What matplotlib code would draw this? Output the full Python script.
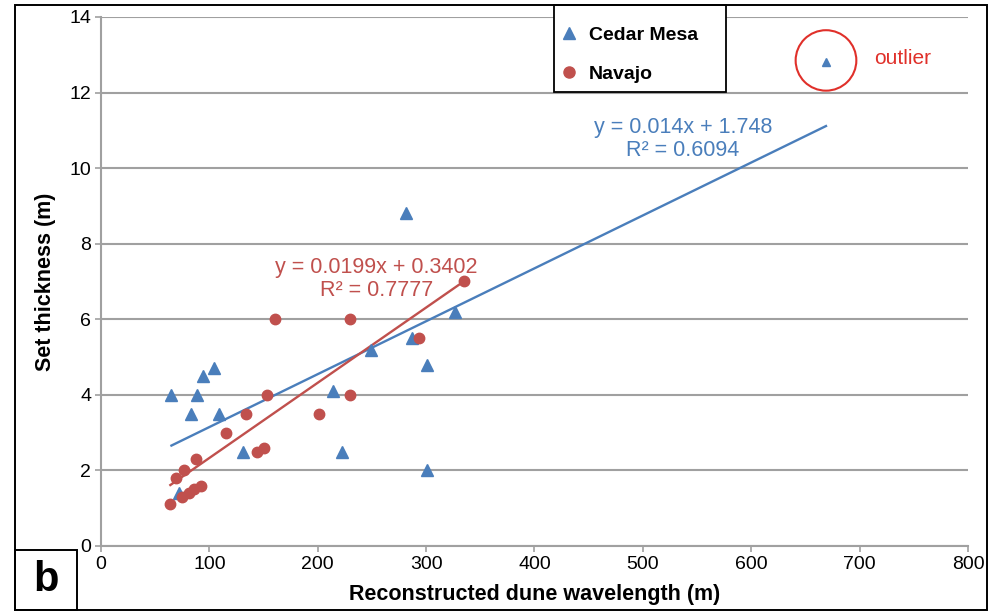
import matplotlib
matplotlib.use("Agg")
import matplotlib.pyplot as plt
from matplotlib.patches import Rectangle, Ellipse
from matplotlib.lines import Line2D
import numpy as np

plt.rcParams["font.family"] = ["Liberation Sans", "DejaVu Sans"]

# Cedar Mesa (triangles)
cedar_x = [65, 72, 83, 89, 94, 104, 109, 131, 214, 222, 249, 281, 287, 301, 301, 327]
cedar_y = [4.0, 1.4, 3.5, 4.0, 4.5, 4.7, 3.5, 2.5, 4.1, 2.5, 5.2, 8.8, 5.5, 4.8, 2.0, 6.2]
outlier_x = [669]
outlier_y = [12.8]

# Navajo (circles)
navajo_x = [64, 69, 75, 77, 81, 86, 88, 92, 115, 134, 144, 150, 153, 161, 201, 230, 230, 293, 335]
navajo_y = [1.1, 1.8, 1.3, 2.0, 1.4, 1.5, 2.3, 1.6, 3.0, 3.5, 2.5, 2.6, 4.0, 6.0, 3.5, 4.0, 6.0, 5.5, 7.0]

# trend lines as printed on the chart
cedar_fit = (0.014, 1.748)
navajo_fit = (0.0199, 0.3402)
cedar_eq = ["y = 0.014x + 1.748", "R² = 0.6094"]
navajo_eq = ["y = 0.0199x + 0.3402", "R² = 0.7777"]

xticks = [0, 100, 200, 300, 400, 500, 600, 700, 800]
yticks = [0, 2, 4, 6, 8, 10, 12, 14]

BLUE = "#4a7ebb"
RED = "#c0504d"
GRID = "#a0a0a0"

fig = plt.figure(figsize=(10.04, 6.13), dpi=100)
ax = fig.add_axes([0.1006, 0.1093, 0.8635, 0.863])

ax.set_xlim(0, 800)
ax.set_ylim(0, 14)
ax.set_xticks(xticks)
ax.set_yticks(yticks)
ax.tick_params(labelsize=14, color=GRID, length=4, width=1.2, pad=3)
for s in ["top", "right"]:
    ax.spines[s].set_visible(False)
for s in ["left", "bottom"]:
    ax.spines[s].set_color(GRID)
    ax.spines[s].set_linewidth(1.5)
ax.yaxis.grid(True, color=GRID, linewidth=1.5)
ax.set_axisbelow(True)

# trend lines over the data range
cx = np.array([min(cedar_x), max(outlier_x)])
ax.plot(cx, cedar_fit[0] * cx + cedar_fit[1], color=BLUE, lw=1.7, zorder=3)
nx = np.array([min(navajo_x), max(navajo_x)])
ax.plot(nx, navajo_fit[0] * nx + navajo_fit[1], color=RED, lw=1.7, zorder=3)

ax.plot(cedar_x, cedar_y, "^", color=BLUE, ms=8, ls="none", zorder=4)
ax.plot(outlier_x, outlier_y, "^", color=BLUE, ms=5.5, ls="none", zorder=4)
ax.plot(navajo_x, navajo_y, "o", color=RED, ms=7.5, ls="none", zorder=4)

ax.text(537, 10.77, "\n".join(cedar_eq), color=BLUE, fontsize=15.5,
        ha="center", va="center", linespacing=1.12)
ax.text(254, 7.06, "\n".join(navajo_eq), color=RED, fontsize=15.5,
        ha="center", va="center", linespacing=1.12)

ax.set_xlabel("Reconstructed dune wavelength (m)", fontsize=15.5, fontweight="bold", labelpad=8)
ax.set_ylabel("Set thickness (m)", fontsize=15.5, fontweight="bold", labelpad=10)

# outlier marker circle
circ = Ellipse((outlier_x[0], outlier_y[0] + 0.05), 56, 1.6, fill=False,
               edgecolor="#e0302a", lw=1.5, zorder=5, clip_on=False)
ax.add_patch(circ)
ax.text(713, 12.9, "outlier", color="#e0302a", fontsize=15, ha="left", va="center")

# legend (frame drawn separately)
handles = [Line2D([], [], marker="^", color=BLUE, ls="none", ms=8),
           Line2D([], [], marker="o", color=RED, ls="none", ms=8)]
leg = fig.legend(handles, ["Cedar Mesa", "Navajo"], loc="upper left",
                 bbox_to_anchor=(552 / 1004, 1 - 9 / 613),
                 prop={"weight": "bold", "size": 14}, frameon=False,
                 borderpad=0.9, labelspacing=1.1, handlelength=0, handletextpad=1.0,
                 borderaxespad=0)
fig.patches.append(Rectangle((554 / 1004, 1 - 92 / 613), 172 / 1004, 87 / 613, transform=fig.transFigure,
                             facecolor="white", edgecolor="black", lw=1.3, zorder=0))

# outer frame and panel letter
fig.patches.append(Rectangle((15 / 1004, 3 / 613), 972 / 1004, 605 / 613, transform=fig.transFigure,
                             fill=False, edgecolor="black", lw=1.4))
fig.patches.append(Rectangle((15 / 1004, 3 / 613), 62 / 1004, 60 / 613, transform=fig.transFigure,
                             fill=False, edgecolor="black", lw=1.4))
fig.text(46 / 1004, 1 - 580 / 613, "b", fontsize=30, fontweight="bold", ha="center", va="center")

fig.savefig("out.png", dpi=100)
